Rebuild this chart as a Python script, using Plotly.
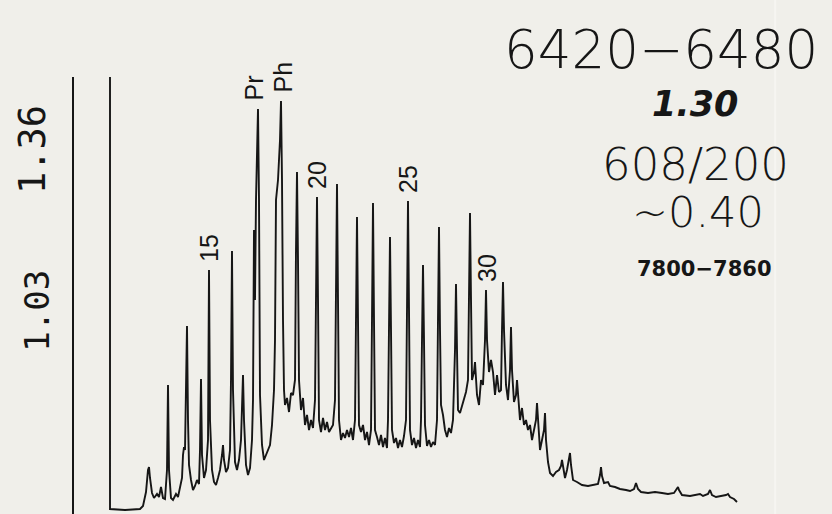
import plotly.graph_objects as go

# Chromatogram trace (retention in scan units, detector response in arbitrary units)
retention = [0, 0, 15, 30, 33, 36, 38, 39, 40, 42, 44, 47, 49, 51, 53, 55, 57, 58, 59, 61, 63, 66, 68, 70, 72, 73, 74, 75, 76, 77, 78, 79,
             81, 83, 85, 87, 89, 90, 91, 92, 94, 96, 98, 99, 100, 102, 104, 106, 108, 110, 112, 113, 114, 116, 118, 120, 121, 122, 123,
             125, 127, 129, 131, 132, 133, 134, 136, 138, 140, 142, 143, 144, 145, 146, 147, 148, 149, 150, 151, 152, 154, 156, 158, 160,
             162, 164, 165, 166, 168, 170, 171, 172, 173, 174, 175, 177, 179, 181, 183, 185, 186, 187, 188, 189, 191, 193, 195, 197, 199,
             201, 203, 205, 206, 207, 208, 209, 211, 213, 215, 217, 219, 221, 223, 225, 226, 227, 228, 229, 231, 233, 235, 237, 239, 241,
             243, 245, 246, 247, 248, 249, 251, 253, 255, 257, 259, 261, 262, 263, 264, 265, 267, 269, 271, 273, 275, 277, 278, 279, 280,
             281, 282, 284, 286, 288, 290, 292, 294, 296, 297, 298, 299, 300, 302, 304, 306, 308, 310, 311, 312, 313, 314, 315, 317, 319,
             321, 323, 325, 327, 328, 329, 330, 331, 333, 335, 337, 339, 341, 343, 345, 346, 347, 348, 350, 352, 354, 356, 358, 359, 360,
             361, 362, 364, 365, 367, 369, 371, 373, 375, 376, 377, 379, 381, 383, 385, 387, 389, 391, 392, 393, 394, 396, 398, 400, 401,
             402, 404, 406, 407, 408, 410, 412, 414, 416, 418, 420, 422, 424, 426, 427, 428, 430, 432, 434, 435, 436, 438, 440, 443, 446,
             449, 451, 452, 453, 455, 457, 459, 460, 461, 463, 467, 472, 478, 484, 488, 490, 491, 492, 494, 498, 500, 505, 510, 516, 520,
             524, 526, 528, 531, 538, 545, 552, 558, 564, 567, 568, 569, 572, 580, 586, 590, 593, 598, 600, 602, 606, 612, 616, 618, 620,
             624, 627]
response = [432, 0, -1, 0, 3, 17, 39, 42, 31, 16, 11, 15, 12, 22, 11, 10, 39, 124, 39, 11, 9, 15, 12, 21, 31, 54, 62, 59, 109, 183, 89, 44,
            29, 19, 23, 29, 25, 59, 130, 54, 31, 39, 69, 239, 89, 39, 27, 24, 31, 39, 54, 64, 49, 37, 41, 59, 129, 258, 119,
            47, 39, 49, 69, 114, 134, 89, 44, 34, 41, 69, 109, 279, 209, 309, 359, 400, 309, 114, 89, 64, 49, 54, 59, 64,
            84, 119, 169, 309, 329, 369, 408, 329, 189, 119, 104, 111, 97, 116, 114, 129, 259, 337, 249, 129, 99, 111, 84, 94, 79,
            89, 81, 109, 209, 312, 209, 89, 77, 91, 79, 87, 77, 81, 84, 109, 209, 325, 209, 89, 69, 76, 71, 79, 72, 81,
            69, 89, 189, 292, 189, 84, 77, 84, 69, 77, 64, 79, 189, 306, 189, 79, 72, 64, 74, 62, 71, 61, 89, 189, 272,
            179, 79, 66, 71, 61, 69, 62, 73, 89, 209, 308, 199, 79, 64, 71, 61, 69, 62, 89, 169, 244, 169, 84, 63, 69,
            62, 67, 64, 89, 189, 282, 179, 104, 94, 79, 72, 81, 76, 89, 159, 225, 159, 99, 96, 104, 111, 117, 129, 209, 296,
            209, 129, 137, 147, 114, 104, 129, 124, 169, 219, 169, 137, 149, 137, 114, 134, 117, 119, 179, 227, 179, 124, 109, 139, 182,
            139, 107, 114, 129, 114, 89, 101, 84, 89, 79, 84, 69, 79, 89, 106, 89, 59, 69, 79, 96, 69, 47, 36, 33, 37,
            39, 43, 49, 41, 31, 39, 49, 56, 44, 29, 27, 24, 23, 24, 25, 34, 42, 33, 26, 27, 23, 22, 20, 19, 18,
            20, 26, 20, 17, 16, 17, 16, 15, 16, 20, 22, 19, 14, 13, 14, 15, 13, 15, 19, 14, 12, 13, 14, 15, 12,
            10, 7]

# Labelled peaks (retention, apex response)
peak_names = ["15", "Pr", "Ph", "20", "25", "30"]
peak_ret = [99, 148, 171, 207, 298, 376]
peak_top = [239, 400, 408, 312, 308, 219]
peak_shift = [0, -5, 1, 0, 0, 1]

# Side annotations
scale_labels = ["1.36", "1.03"]
header_lines = ["6420\u22126480", "1.30", "608/200", "~0.40", "7800\u22127860"]

BG = "#f0efea"
INK = "#161616"

fig = go.Figure()
fig.add_trace(go.Scatter(x=retention, y=response, mode="lines",
                         line=dict(color=INK, width=1.9), hoverinfo="skip",
                         showlegend=False))

for name, rx, ry, dx in zip(peak_names, peak_ret, peak_top, peak_shift):
    fig.add_annotation(x=rx, y=ry, xref="x", yref="y", text=name, showarrow=False,
                       textangle=-90, xanchor="center", yanchor="bottom", yshift=6, xshift=dx,
                       font=dict(family="Liberation Sans", size=25, color=INK))

# rotated scale labels at the left
fig.add_annotation(x=-0.054, y=0.833, xref="paper", yref="paper", text=scale_labels[0],
                   showarrow=False, textangle=-90, xanchor="center", yanchor="middle",
                   font=dict(family="DejaVu Sans Mono", size=37, color=INK))
fig.add_annotation(x=-0.049, y=0.465, xref="paper", yref="paper", text=scale_labels[1],
                   showarrow=False, textangle=-90, xanchor="center", yanchor="middle",
                   font=dict(family="DejaVu Sans Mono", size=34, weight=300, color=INK))

# text block on the right
WIDE = "DejaVu Sans"
blk = [
    (0.774, 1.064, header_lines[0], dict(family=WIDE, size=53, weight=200, color=INK)),
    (0.819, 0.938, "<i>" + header_lines[1] + "</i>", dict(family=WIDE, size=35, weight="bold", color=INK)),
    (0.820, 0.799, header_lines[2], dict(family=WIDE, size=45, weight=200, color=INK)),
    (0.823, 0.691, header_lines[3], dict(family=WIDE, size=43, weight=200, color=INK)),
    (0.832, 0.561, "<b>" + header_lines[4] + "</b>", dict(family=WIDE, size=21, color=INK)),
]
for x, y, t, f in blk:
    fig.add_annotation(x=x, y=y, xref="paper", yref="paper", text=t, showarrow=False,
                       xanchor="center", yanchor="middle", font=f)

# faint paper fold
fig.add_shape(type="line", xref="paper", yref="paper", x0=0.925, x1=0.925, y0=0, y1=1.18,
              line=dict(color="#f6f5f1", width=2), layer="below")

fig.update_layout(
    width=832, height=514,
    margin=dict(l=74, r=0, t=77, b=0),
    paper_bgcolor=BG, plot_bgcolor=BG,
    xaxis=dict(visible=False, range=[-36, 722]),
    yaxis=dict(range=[-5, 432], showline=True, linecolor=INK, linewidth=2,
               showgrid=False, zeroline=False, showticklabels=False, ticks=""),
)

fig.write_html("out.html", config={"displayModeBar": False},
               post_script="document.body.style.margin='0';document.body.style.overflow='hidden';")
